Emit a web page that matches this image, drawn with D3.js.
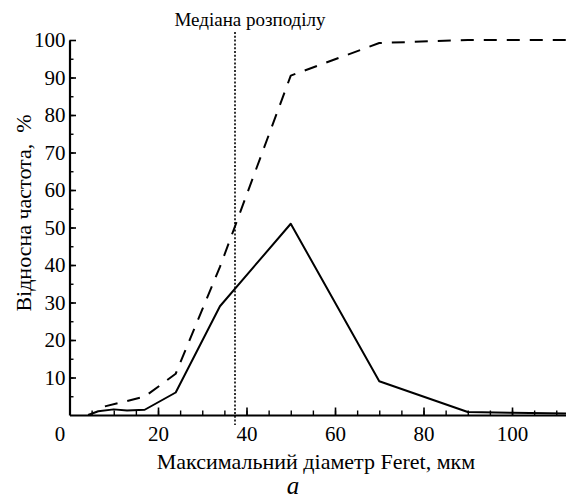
<!DOCTYPE html>
<html>
<head>
<meta charset="utf-8">
<script src="https://cdn.jsdelivr.net/npm/d3@7/dist/d3.min.js"></script>
<style>
  html, body { margin: 0; padding: 0; background: #fff; }
  svg { display: block; }
</style>
</head>
<body>
<svg id="chart" width="566" height="498" font-family="Liberation Serif"></svg>
<script>
// ---- data ----
const freqX   = [4.2, 6.5, 10, 13, 17, 24, 34, 50, 70, 90, 100, 112.2];
const freqY   = [0, 1.0, 1.5, 1.2, 1.4, 6, 29, 51, 9, 0.8, 0.6, 0.4];
const cumX    = [8, 17, 24, 34, 50, 70, 90, 112.2];
const cumY    = [2.3, 4.9, 11, 39.5, 90.5, 99.2, 100, 100];
const medianX = 37.4;
const xTickLabels = [0, 20, 40, 60, 80, 100];
const yTickLabels = [10, 20, 30, 40, 50, 60, 70, 80, 90, 100];
const xMinorTicks = d3.range(5, 112, 5);
const yMinorTicks = d3.range(5, 100, 5);
const xTitle = "Максимальний діаметр Feret, мкм";
const yTitle = "Відносна частота,\u00a0\u00a0%";
const medianLabel = "Медіана розподілу";
const panelLabel = "a";

const FONT = "'Liberation Serif', Tinos, 'Times New Roman', serif";
function serif(sel, size) {
  sel.attr("font-family", "Liberation Serif").attr("font-size", size)
     .style("font-family", FONT, "important")
     .style("font-size", size + "px", "important");
}

// ---- layout ----
const svg = d3.select("#chart");
const x = d3.scaleLinear().domain([0, 112.2]).range([69.5, 566]);
const y = d3.scaleLinear().domain([0, 100]).range([415, 40]);

// minor ticks
svg.append("g").attr("transform", `translate(0,${y(0)})`)
  .call(d3.axisBottom(x).tickValues(xMinorTicks).tickSize(-4.5).tickFormat(""))
  .call(g => g.select(".domain").remove())
  .call(g => g.selectAll("line").attr("stroke-width", 1.4));
svg.append("g").attr("transform", `translate(${x(0)},0)`)
  .call(d3.axisLeft(y).tickValues(yMinorTicks).tickSize(-4).tickFormat(""))
  .call(g => g.select(".domain").remove())
  .call(g => g.selectAll("line").attr("stroke-width", 1.4));

// major x axis
const gx = svg.append("g").attr("transform", `translate(0,${y(0)})`)
  .call(d3.axisBottom(x).tickValues(xTickLabels).tickSize(-7.5).tickSizeOuter(0).tickPadding(11));
gx.select(".domain").attr("stroke-width", 2.2);
gx.selectAll("line").attr("stroke-width", 1.6);
gx.selectAll("text").call(serif, 21).attr("dx", d => d === 0 ? -10 : 0);

// major y axis
const gy = svg.append("g").attr("transform", `translate(${x(0)},0)`)
  .call(d3.axisLeft(y).tickValues(yTickLabels).tickSize(-6.5).tickSizeOuter(0).tickPadding(4));
gy.select(".domain").attr("stroke-width", 2.2);
gy.selectAll("line").attr("stroke-width", 1.6);
gy.selectAll("text").call(serif, 21);

// median line
svg.append("line")
  .attr("x1", x(medianX)).attr("x2", x(medianX))
  .attr("y1", 32).attr("y2", 425)
  .attr("stroke", "#000").attr("stroke-width", 1.6)
  .attr("stroke-dasharray", "2,1.8");
svg.append("text")
  .attr("x", x(medianX) + 15).attr("y", 26)
  .attr("text-anchor", "middle")
  .call(serif, 19)
  .text(medianLabel);

// lines
const line = d3.line().x(d => x(d[0])).y(d => y(d[1]));
svg.append("path")
  .datum(freqX.map((v, i) => [v, freqY[i]]))
  .attr("d", line).attr("fill", "none")
  .attr("stroke", "#000").attr("stroke-width", 2)
  .attr("stroke-linejoin", "round");
svg.append("path")
  .datum(cumX.map((v, i) => [v, cumY[i]]))
  .attr("d", line).attr("fill", "none")
  .attr("stroke", "#000").attr("stroke-width", 2)
  .attr("stroke-dasharray", "13,10")
  .attr("stroke-linejoin", "round");

// titles
svg.append("text")
  .attr("x", 316).attr("y", 469)
  .attr("text-anchor", "middle")
  .call(serif, 22)
  .text(xTitle);
svg.append("text")
  .attr("transform", "translate(31,213) rotate(-90)")
  .attr("text-anchor", "middle")
  .call(serif, 22)
  .text(yTitle);
svg.append("text")
  .attr("x", 293).attr("y", 494)
  .attr("text-anchor", "middle")
  .call(serif, 25)
  .attr("font-style", "italic")
  .text(panelLabel);
</script>
</body>
</html>
